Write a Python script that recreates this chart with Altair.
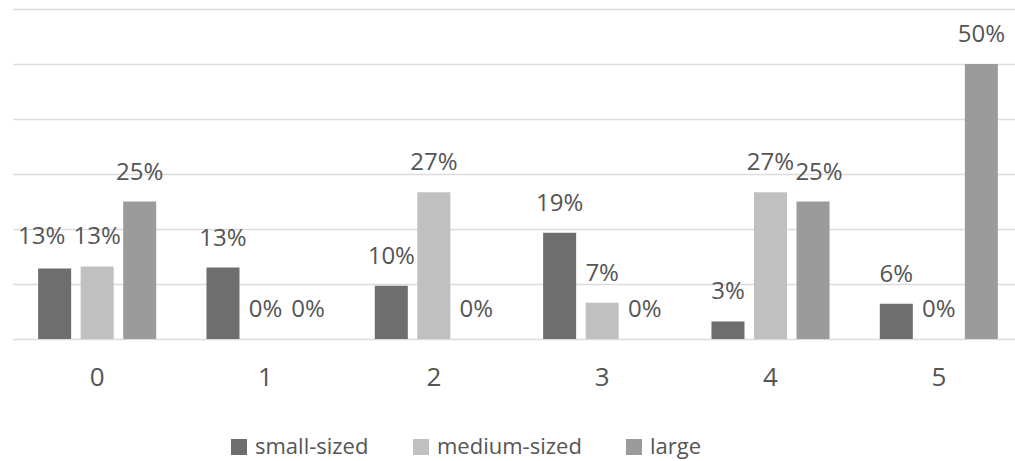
import altair as alt
import pandas as pd

# Categories and series
groups = ["0", "1", "2", "3", "4", "5"]
sizes = ["small-sized", "medium-sized", "large"]
small_vals = [0.128, 0.13, 0.097, 0.193, 0.032, 0.064]
medium_vals = [0.132, 0.0, 0.267, 0.066, 0.267, 0.0]
large_vals = [0.25, 0.0, 0.0, 0.0, 0.25, 0.5]
colors = ["#6e6e6e", "#c0c0c0", "#9b9b9b"]
y_grid = [0.0, 0.1, 0.2, 0.3, 0.4, 0.5, 0.6]

rows = []
for s, vals in zip(sizes, [small_vals, medium_vals, large_vals]):
    for g, v in zip(groups, vals):
        rows.append({"group": g, "size": s, "share": v})
df = pd.DataFrame(rows)

FONT = "Open Sans"
TEXT = "#555555"

x_enc = alt.X(
    "group:N",
    sort=groups,
    scale=alt.Scale(range=[0, 1010], paddingInner=0.243, paddingOuter=0.1215),
    axis=alt.Axis(
        title=None, labelAngle=0, domain=False, ticks=False, grid=False,
        labelFont=FONT, labelFontSize=26, labelColor=TEXT, labelPadding=25,
    ),
)
xoff_enc = alt.XOffset(
    "size:N", sort=sizes,
    scale=alt.Scale(domain=sizes, paddingInner=0.2235, paddingOuter=0.11),
)
y_enc = alt.Y(
    "share:Q",
    scale=alt.Scale(domain=[0, 0.6], nice=False, zero=True),
    axis=alt.Axis(
        title=None, labels=False, ticks=False, domain=False, values=y_grid,
        grid=True, gridColor="#dcdcdc", gridWidth=1.5,
    ),
)

base = alt.Chart(df)

bars = base.mark_bar().encode(
    x=x_enc,
    xOffset=xoff_enc,
    y=y_enc,
    color=alt.Color(
        "size:N",
        scale=alt.Scale(domain=sizes, range=colors),
        legend=alt.Legend(
            title=None, orient="none", direction="horizontal",
            legendX=215, legendY=427, padding=0,
            symbolType="square", symbolSize=256, symbolStrokeWidth=0,
            labelFont=FONT, labelFontSize=22, labelColor=TEXT,
            columnPadding=41, labelOffset=5,
        ),
    ),
)

label_style = dict(baseline="alphabetic", align="center", font=FONT,
                   fontSize=24, color=TEXT)
label_enc = dict(
    x=alt.X("group:N", sort=groups),
    xOffset=alt.XOffset("size:N", sort=sizes),
    y=alt.Y("share:Q"),
    text=alt.Text("share:Q", format=".0%"),
)

# Two labels are shifted sideways so they do not collide with neighbours
nudged_left = (alt.datum.group == "0") & (alt.datum.size == "small-sized")
nudged_right = (alt.datum.group == "4") & (alt.datum.size == "large")

labels = base.mark_text(dy=-22, **label_style).encode(**label_enc).transform_filter(
    ~(nudged_left | nudged_right)
)
labels_left = base.mark_text(dy=-25, dx=-13, **label_style).encode(**label_enc).transform_filter(
    nudged_left
)
labels_right = base.mark_text(dy=-22, dx=6, **label_style).encode(**label_enc).transform_filter(
    nudged_right
)

chart = (
    alt.layer(bars, labels, labels_left, labels_right)
    .properties(
        width=1002,
        height=330,
        autosize=alt.AutoSizeParams(type="none"),
        padding={"left": 13, "top": 9, "right": 0, "bottom": 122},
        background="#ffffff",
    )
    .configure_view(stroke=None)
)

chart.save("out.html", embed_options={"renderer": "svg", "actions": False})
